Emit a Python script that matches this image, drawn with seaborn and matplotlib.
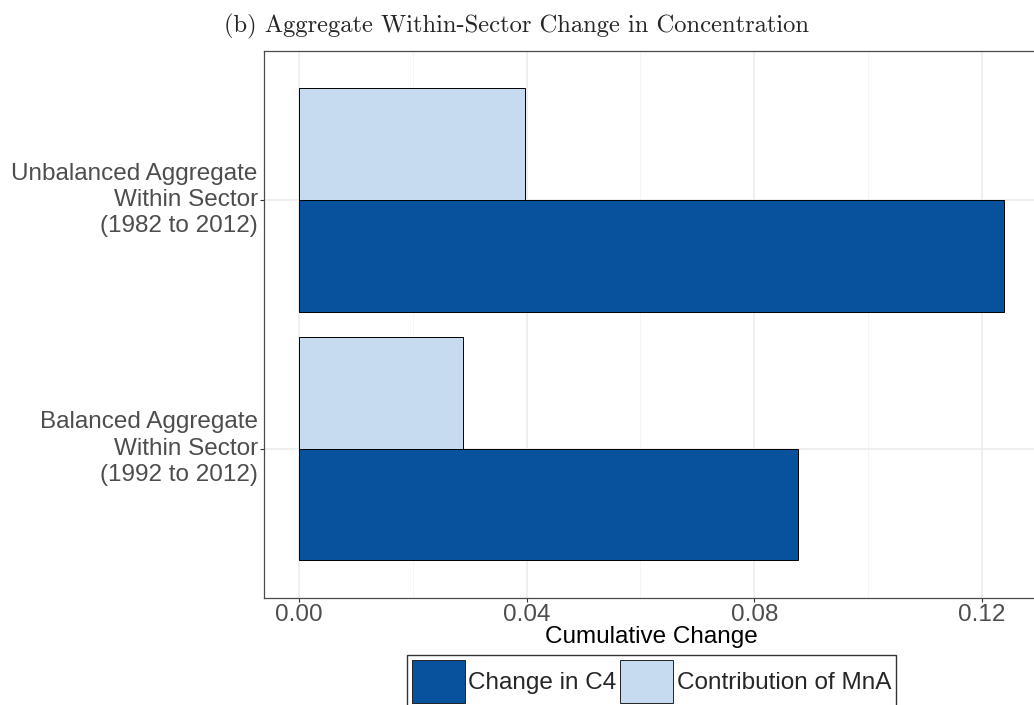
import matplotlib
matplotlib.use("Agg")
import matplotlib.pyplot as plt
from matplotlib.patches import Patch
import pandas as pd
import seaborn as sns

# Data: cumulative change by sample, split into total and M&A contribution
samples = [
    "Unbalanced Aggregate\nWithin Sector\n(1982 to 2012)",
    "Balanced Aggregate\nWithin Sector\n(1992 to 2012)",
]
series = ["Contribution of MnA", "Change in C4"]
mna_contribution = [0.0398, 0.0289]
c4_change = [0.1238, 0.0877]
x_ticks = [0.00, 0.04, 0.08, 0.12]
x_tick_labels = ["0.00", "0.04", "0.08", "0.12"]
x_minor = [0.02, 0.06, 0.10]
colors = {"Change in C4": "#08519C", "Contribution of MnA": "#C6DBEF"}

df = pd.DataFrame({
    "sample": samples * 2,
    "series": [series[0]] * len(samples) + [series[1]] * len(samples),
    "value": mna_contribution + c4_change,
})

sns.set_theme(style="white")
plt.rcParams["font.family"] = ["Liberation Sans", "DejaVu Sans"]

W, H = 1034, 705
fig = plt.figure(figsize=(W / 100, H / 100), dpi=100)

# panel: x limits expanded by 5% like ggplot
vmax = df["value"].max()
lo, hi = -0.05 * vmax, 1.05 * vmax
px_per_unit = 5691.7
left_px, top_px, bottom_px = 263.7, 50.7, 597.7
right_px = left_px + (hi - lo) * px_per_unit
ax = fig.add_axes([left_px / W, 1 - bottom_px / H,
                   (right_px - left_px) / W, (bottom_px - top_px) / H])

sns.barplot(data=df, x="value", y="sample", hue="series", hue_order=series,
            order=samples, palette=colors, orient="h", width=0.9, saturation=1,
            edgecolor="black", linewidth=0.7, legend=False, ax=ax)

ax.set_xlim(lo, hi)
ax.set_ylim(1.6, -0.6)
ax.set_axisbelow(True)

ax.set_xticks(x_ticks)
ax.set_xticklabels(x_tick_labels)
ax.set_xticks(x_minor, minor=True)
ax.grid(True, which="major", axis="both", color="#EBEBEB", linewidth=1.1)
ax.grid(True, which="minor", axis="x", color="#F2F2F2", linewidth=0.6)

ax.tick_params(axis="x", which="major", length=2.8, width=0.8, color="#333333",
               labelsize=17.5, labelcolor="#4D4D4D", pad=1.5, bottom=True)
ax.tick_params(axis="x", which="minor", length=0, bottom=False)
ax.tick_params(axis="y", length=2.8, width=0.8, color="#333333",
               labelsize=17.5, labelcolor="#4D4D4D", pad=1.5, left=True)
for lab in ax.get_yticklabels():
    lab.set_multialignment("right")
    lab.set_verticalalignment("center")
    lab.set_linespacing(1.24)

for side, sp in ax.spines.items():
    sp.set_visible(True)
    sp.set_color("#4A4A4A")
    sp.set_linewidth(0.9)

ax.set_ylabel("")
ax.set_xlabel("Cumulative Change", fontsize=17.5, color="black", labelpad=0)

# legend below the panel
handles = [Patch(facecolor=colors[s], edgecolor="#222222", linewidth=0.7, label=s)
           for s in ["Change in C4", "Contribution of MnA"]]
cx = (left_px + right_px) / 2 / W
leg = fig.legend(handles=handles, loc="upper center", ncol=2,
                 bbox_to_anchor=(cx, 1 - 655 / H), frameon=True, fontsize=17.5,
                 handlelength=2.18, handleheight=2.35, handletextpad=0.14,
                 columnspacing=0.16, borderpad=0.2, borderaxespad=0,
                 fancybox=False)
leg.get_frame().set_edgecolor("black")
leg.get_frame().set_linewidth(1.0)

fig.text(0.5, 1 - 26 / H, "(b) Aggregate Within-Sector Change in Concentration",
         family=["cmr10", "DejaVu Serif"], fontsize=17.7, ha="center", va="center")

fig.savefig("out.png", dpi=100)
